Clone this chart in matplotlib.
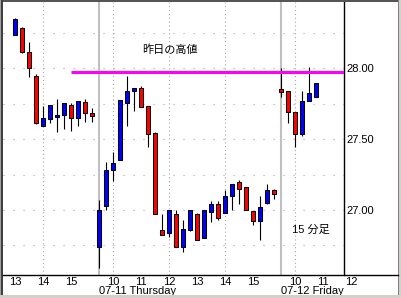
import matplotlib
matplotlib.use("Agg")
import matplotlib.pyplot as plt
from matplotlib.patches import Rectangle
from matplotlib.lines import Line2D
import numpy as np

# ---- data ----
opens = [28.24, 28.285, 28.115, 27.95, 27.595, 27.64, 27.66, 27.67, 27.74, 27.65, 27.76, 27.685,
         26.74, 27.025, 27.28, 27.35, 27.755, 27.84, 27.86, 27.735, 27.545, 26.855, 26.835, 26.97,
         26.735, 26.86, 26.97, 26.805, 26.985, 27.04, 26.98, 27.095, 27.195, 27.16, 26.995, 26.925,
         27.05, 27.14,
         27.855, 27.84, 27.69, 27.54, 27.77, 27.80]
highs = [28.36, 28.295, 28.19, 27.96, 27.735, 27.74, 27.785, 27.755, 27.755, 27.77, 27.785, 27.72,
         27.07, 27.34, 27.41, 27.78, 27.945, 27.86, 27.875, 27.735, 27.55, 26.97, 27.00, 27.00,
         26.93, 27.00, 26.98, 27.00, 27.06, 27.06, 27.14, 27.185, 27.215, 27.16, 26.995, 27.10,
         27.185, 27.15,
         28.00, 27.84, 27.69, 27.84, 28.01, 27.90]
lows = [28.235, 28.11, 27.94, 27.605, 27.595, 27.615, 27.55, 27.575, 27.56, 27.595, 27.62, 27.62,
        26.59, 27.00, 27.205, 27.35, 27.59, 27.70, 27.73, 27.445, 26.97, 26.825, 26.81, 26.735,
        26.705, 26.85, 26.79, 26.805, 26.915, 26.93, 26.98, 27.00, 27.045, 27.00, 26.895, 26.79,
        27.04, 27.075,
        27.80, 27.615, 27.445, 27.525, 27.77, 27.80]
closes = [28.35, 28.12, 28.00, 27.615, 27.65, 27.74, 27.67, 27.755, 27.65, 27.77, 27.685, 27.665,
          27.00, 27.28, 27.335, 27.78, 27.84, 27.86, 27.73, 27.54, 26.97, 26.825, 27.00, 26.74,
          26.865, 27.00, 26.79, 27.00, 27.04, 26.945, 27.095, 27.185, 27.15, 27.00, 26.925, 27.02,
          27.14, 27.115,
          27.835, 27.69, 27.54, 27.77, 27.83, 27.895]
prev_high = 27.975

hour_pos = [0, 4, 8, 14, 18, 22, 26, 30, 34, 40, 44, 48]
hour_labels = ["13", "14", "15", "10", "11", "12", "13", "14", "15", "10", "11", "12"]
day_pos = [12, 38]
day_labels = ["07-11 Thursday", "07-12 Friday"]
vgrid_pos = [4, 14, 22, 30, 40]
ygrid = [26.75, 27.0, 27.25, 27.5, 27.75, 28.0, 28.25]
yticks = [27.0, 27.5, 28.0]

W, H = 402, 298
fig = plt.figure(figsize=(W / 100, H / 100), dpi=100)
fig.patch.set_facecolor("white")

ax_l, ax_r, ax_t, ax_b = 3, 344, 2, 275
ax = fig.add_axes([ax_l / W, (H - ax_b) / H, (ax_r - ax_l) / W, (ax_b - ax_t) / H])
ax.set_facecolor("white")
ax.set_xlim(-1.71, 47.0)
ax.set_ylim(26.54, 28.47)

for s in ["top", "left", "bottom"]:
    ax.spines[s].set_visible(False)
ax.spines["right"].set_color("black")
ax.spines["right"].set_linewidth(1.0)

# grid
for g in ygrid:
    ax.axhline(g, color="#a8a8a8", lw=0.8, ls=(0, (1, 8)), zorder=0)
for v in vgrid_pos:
    ax.axvline(v, color="#a8a8a8", lw=0.8, ls=(0, (1, 2.5)), zorder=0)
for d in day_pos:
    ax.axvline(d, color="#c0c0c0", lw=1.5, zorder=0.5)

x = np.arange(len(opens))
o = np.array(opens); c = np.array(closes)
ax.vlines(x, lows, highs, color="black", lw=0.8, zorder=2)
cols = ["#0000ff" if cc >= oo else "#ff0000" for oo, cc in zip(o, c)]
hgt = c - o
hgt = np.where(np.abs(hgt) < 0.012, np.sign(hgt + 1e-9) * 0.012, hgt)
ax.bar(x, hgt, bottom=o, width=0.6, color=cols, edgecolor="black", linewidth=0.75, zorder=3)

ax.hlines(prev_high, 8, 47, color="#ff00ff", lw=2.2, zorder=4)

ax.text(22.1, 28.13, "昨日の高値", fontsize=8, ha="center", va="center",
        family=["Noto Sans CJK JP", "DejaVu Sans"], color="black")
ax.text(39.6, 26.86, "15 分足", fontsize=8, ha="left", va="center",
        family=["Liberation Sans", "Noto Sans CJK JP"], color="black")

# y ticks on right
ax.set_xticks([])
ax.yaxis.tick_right()
ax.set_yticks(yticks)
ax.set_yticklabels([f"{t:.2f}" for t in yticks], fontsize=8, family="Liberation Sans")
ax.tick_params(axis="y", length=0, pad=2)

# x labels as text
import matplotlib.transforms as mtrans
trans = mtrans.blended_transform_factory(ax.transData, fig.transFigure)
for p, lab in zip(hour_pos, hour_labels):
    ax.text(p, (H - 282) / H, lab, transform=trans, fontsize=8, ha="center", va="center",
            family="Liberation Sans", clip_on=False)
for p, lab in zip(day_pos, day_labels):
    ax.text(p, (H - 291.5) / H, lab, transform=trans, fontsize=8, ha="left", va="center",
            family="Liberation Sans", clip_on=False)

# bottom axis line across whole width
fig.add_artist(Line2D([3 / W, 398 / W], [(H - 275) / H] * 2, color="black", lw=1.0))

# window frame
def px_rect(x0, y0, w, h, color):
    fig.add_artist(Rectangle((x0 / W, (H - y0 - h) / H), w / W, h / H, transform=fig.transFigure,
                             facecolor=color, edgecolor="none"))

px_rect(0, 0, W, 1.5, "#555555")
px_rect(0, 0, 1, H, "#a0a0a0")
px_rect(1, 0, 2, H, "#404040")
px_rect(398.5, 0, 3.5, H, "#d4d0c8")
px_rect(398, 0, 1, H, "#808080")
px_rect(0, 295, W, 3, "#d4d0c8")

fig.savefig("out.png", dpi=100)
